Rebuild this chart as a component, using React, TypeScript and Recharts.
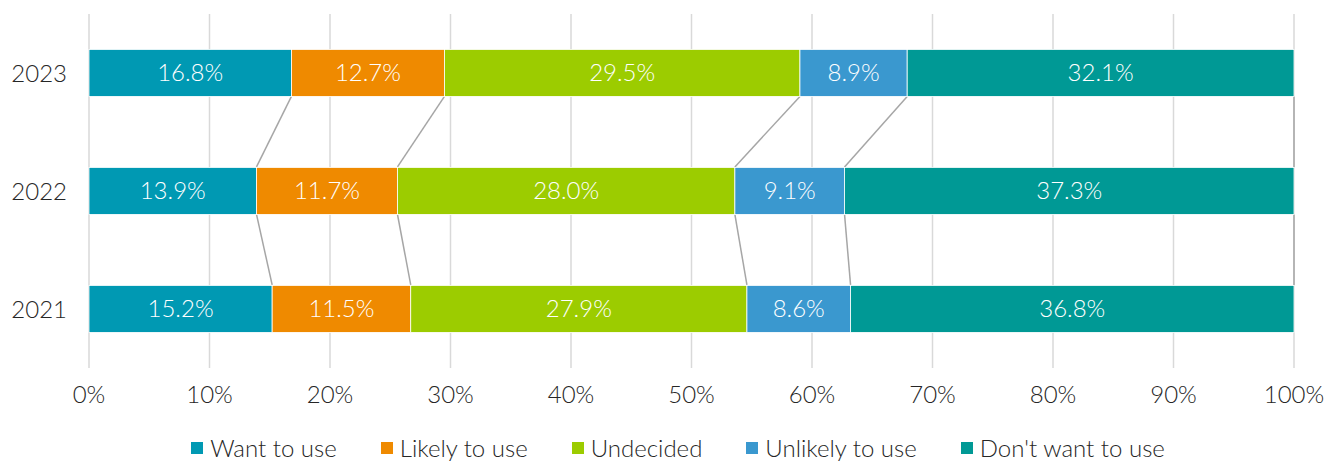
import React from "react";
import { ComposedChart, Bar, XAxis, YAxis, CartesianGrid, LabelList } from "recharts";

const years = ["2023", "2022", "2021"];
const wantToUse = [16.8, 13.9, 15.2];
const likelyToUse = [12.7, 11.7, 11.5];
const undecided = [29.5, 28.0, 27.9];
const unlikelyToUse = [8.9, 9.1, 8.6];
const dontWantToUse = [32.1, 37.3, 36.8];
const xTicks = [0, 10, 20, 30, 40, 50, 60, 70, 80, 90, 100];

const seriesDefs = [
  { key: "want", name: "Want to use", values: wantToUse, color: "#0099B3" },
  { key: "likely", name: "Likely to use", values: likelyToUse, color: "#EF8A00" },
  { key: "undecided", name: "Undecided", values: undecided, color: "#9CCC00" },
  { key: "unlikely", name: "Unlikely to use", values: unlikelyToUse, color: "#3A98CF" },
  { key: "dont", name: "Don't want to use", values: dontWantToUse, color: "#009995" },
];

const data = years.map((y, i) => {
  const row: any = { year: y };
  seriesDefs.forEach((s) => (row[s.key] = s.values[i]));
  return row;
});

const CAT_GAP = 0.3; // barCategoryGap fraction
const FONT = "Lato, 'Noto Sans', sans-serif";
const FS = 24;

function cumulative(i: number, upto: number) {
  let c = 0;
  for (let k = 0; k <= upto; k++) c += seriesDefs[k].values[i];
  return c;
}

function makeShape(sIdx: number, color: string) {
  return (props: any) => {
    const { x, y, width, height, index } = props;
    const val = seriesDefs[sIdx].values[index];
    const ppp = width / val;
    const start = cumulative(index, sIdx) - val;
    const x0 = x - start * ppp;
    const step = height / (1 - 2 * CAT_GAP);
    let line = null;
    if (index < years.length - 1) {
      const nextCum = cumulative(index + 1, sIdx);
      const xn = x0 + nextCum * ppp;
      line = (
        <line
          x1={x + width}
          y1={y + height}
          x2={xn}
          y2={y + step}
          stroke="#A6A6A6"
          strokeWidth={1.5}
        />
      );
    }
    return (
      <g>
        {line}
        <rect x={x} y={y} width={width} height={height} fill={color} stroke="#FFFFFF" strokeWidth={0.8} />
      </g>
    );
  };
}

export default function App() {
  return (
    <div style={{ position: "absolute", left: 0, top: 0, width: 1326, height: 461, background: "#fff", overflow: "hidden" }}>
      <ComposedChart
        width={1326}
        height={461}
        data={data}
        layout="vertical"
        margin={{ top: 14, right: 32, left: 0, bottom: 63 }}
        barCategoryGap={`${CAT_GAP * 100}%`}
      >
        <CartesianGrid horizontal={false} stroke="#D9D9D9" strokeWidth={1.5} />
        <XAxis
          type="number"
          domain={[0, 100]}
          ticks={xTicks}
          height={30}
          tickFormatter={(v: number) => `${v}%`}
          axisLine={false}
          tickLine={false}
          tickMargin={12}
          tick={{ fontFamily: FONT, fontSize: FS, fontWeight: 300, fill: "#262626" }}
          interval={0}
        />
        <YAxis
          type="category"
          dataKey="year"
          width={89}
          axisLine={false}
          tickLine={false}
          tickMargin={16}
          tick={{ fontFamily: FONT, fontSize: FS, fontWeight: 300, fill: "#262626" }}
        />
        {seriesDefs.map((s, sIdx) => (
          <Bar
            key={s.key}
            dataKey={s.key}
            name={s.name}
            stackId="a"
            fill={s.color}
            isAnimationActive={false}
            shape={makeShape(sIdx, s.color)}
          >
            <LabelList
              dataKey={s.key}
              position="center"
              formatter={(v: number) => `${v.toFixed(1)}%`}
              fill="#FFFFFF"
              style={{ fontFamily: FONT, fontSize: FS, fontWeight: 300, fill: "#FFFFFF" }}
            />
          </Bar>
        ))}
      </ComposedChart>
      <div
        style={{
          position: "absolute",
          top: 433,
          left: 0,
          width: 1326,
          display: "flex",
          justifyContent: "center",
          paddingLeft: 30,
          boxSizing: "border-box",
          fontFamily: FONT,
          fontSize: FS,
          fontWeight: 300,
          color: "#262626",
          whiteSpace: "nowrap",
        }}
      >
        {seriesDefs.map((s, i) => (
          <div key={s.key} style={{ display: "flex", alignItems: "center", marginRight: i < seriesDefs.length - 1 ? 44 : 0 }}>
            <span style={{ display: "inline-block", width: 12, height: 12, background: s.color, marginRight: 7 }} />
            <span>{s.name}</span>
          </div>
        ))}
      </div>
    </div>
  );
}
